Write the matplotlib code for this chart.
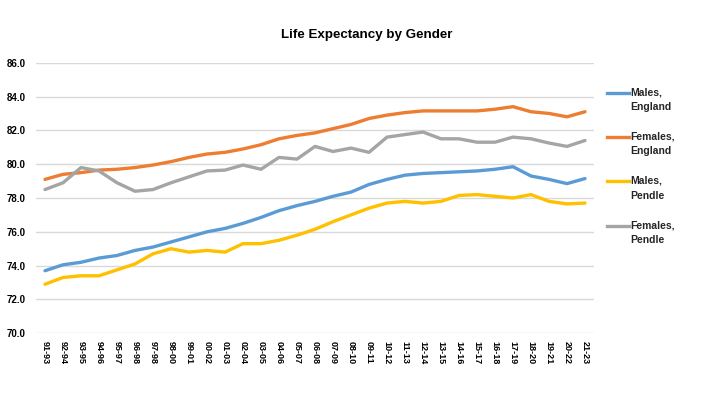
import matplotlib
matplotlib.use("Agg")
import matplotlib.pyplot as plt
from matplotlib.lines import Line2D

# periods (3-year rolling)
periods = ['91-93', '92-94', '93-95', '94-96', '95-97', '96-98', '97-98', '98-00',
           '99-01', '00-02', '01-03', '02-04', '03-05', '04-06', '05-07', '06-08',
           '07-09', '08-10', '09-11', '10-12', '11-13', '12-14', '13-15', '14-16',
           '15-17', '16-18', '17-19', '18-20', '19-21', '20-22', '21-23']

males_england = [73.7, 74.05, 74.2, 74.45, 74.6, 74.9, 75.1, 75.4, 75.7, 76.0,
                 76.2, 76.5, 76.85, 77.25, 77.55, 77.8, 78.1, 78.35, 78.8, 79.1,
                 79.35, 79.45, 79.5, 79.55, 79.6, 79.7, 79.85, 79.3, 79.1, 78.85, 79.15]
females_england = [79.1, 79.4, 79.5, 79.65, 79.7, 79.8, 79.95, 80.15, 80.4, 80.6,
                   80.7, 80.9, 81.15, 81.5, 81.7, 81.85, 82.1, 82.35, 82.7, 82.9,
                   83.05, 83.15, 83.15, 83.15, 83.15, 83.25, 83.4, 83.1, 83.0, 82.8, 83.1]
males_pendle = [72.9, 73.3, 73.4, 73.4, 73.75, 74.1, 74.7, 75.0, 74.8, 74.9,
                74.8, 75.3, 75.3, 75.5, 75.8, 76.15, 76.6, 77.0, 77.4, 77.7,
                77.8, 77.7, 77.8, 78.15, 78.2, 78.1, 78.0, 78.2, 77.8, 77.65, 77.7]
females_pendle = [78.5, 78.9, 79.8, 79.6, 78.9, 78.4, 78.5, 78.9, 79.25, 79.6,
                  79.65, 79.95, 79.7, 80.4, 80.3, 81.05, 80.75, 80.95, 80.7, 81.6,
                  81.75, 81.9, 81.5, 81.5, 81.3, 81.3, 81.6, 81.5, 81.25, 81.05, 81.4]

series = [
    ("Males,\nEngland", males_england, "#5B9BD5"),
    ("Females,\nEngland", females_england, "#ED7D31"),
    ("Males,\nPendle", males_pendle, "#FFC000"),
    ("Females,\nPendle", females_pendle, "#A5A5A5"),
]

plt.rcParams['font.family'] = ['Liberation Sans', 'DejaVu Sans']

W, H = 713, 409
fig = plt.figure(figsize=(W / 100, H / 100), dpi=100)
ax = fig.add_axes([36 / W, 1 - 333.3 / H, (594 - 36) / W, (333.3 - 62.7) / H])

x = list(range(len(periods)))
for label, vals, col in series:
    ax.plot(x, vals, color=col, lw=2.4, solid_capstyle='round', solid_joinstyle='round')

ax.set_xlim(-0.5, len(periods) - 0.5)
ax.set_ylim(70, 86)
ax.set_yticks([70, 72, 74, 76, 78, 80, 82, 84, 86])
ax.set_yticklabels(['%.1f' % v for v in ax.get_yticks()], fontweight='bold', fontsize=7)
ax.set_xticks(x)
ax.set_xticklabels(periods, rotation=-90, fontweight='bold', fontsize=6.5, va='top', ha='center')
ax.tick_params(axis='x', length=0, pad=5.3)
ax.tick_params(axis='y', length=0, pad=7.5)
ax.grid(axis='y', color='#d9d9d9', lw=1)
ax.set_axisbelow(True)
for s in ax.spines.values():
    s.set_visible(False)

fig.text(367 / W, 1 - 35 / H, "Life Expectancy by Gender", ha='center', va='center',
         fontsize=9.6, fontweight='bold')

# legend on the right, handle aligned with first text line
for i, (label, vals, col) in enumerate(series):
    yc = 93.0 + i * 44.2
    fig.add_artist(Line2D([607 / W, 629 / W], [1 - yc / H, 1 - yc / H], color=col, lw=2.4,
                          transform=fig.transFigure))
    fig.text(630 / W, 1 - (yc - 5.5) / H, label, ha='left', va='top', fontsize=7.5,
             fontweight='bold', linespacing=1.6, color='#262626')

fig.savefig("out.png", dpi=100)
